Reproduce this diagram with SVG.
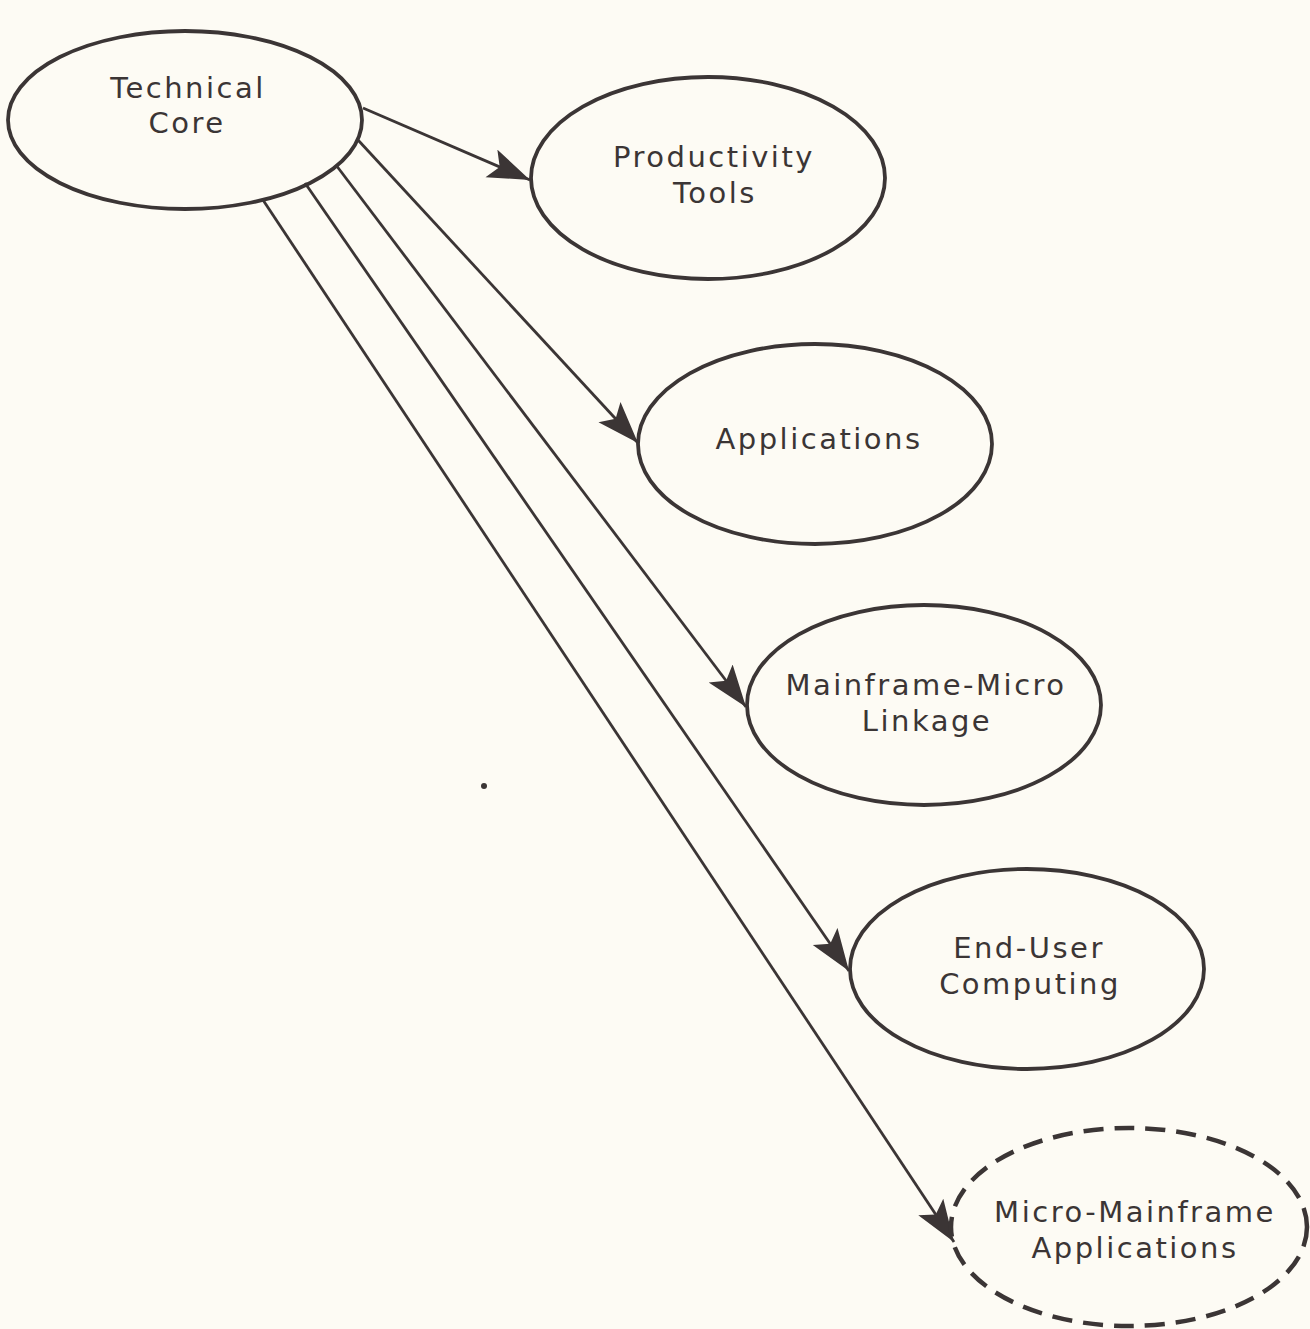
<svg xmlns="http://www.w3.org/2000/svg" width="1310" height="1329" viewBox="0 0 1310 1329">
<defs>
<style>
.node{fill:none;stroke:#3b3535;stroke-width:3.8}
.dash{stroke-dasharray:20 11;stroke-width:4.5}
.edge{stroke:#3b3535;stroke-width:2.8;fill:none}
text{font-family:"DejaVu Sans","Liberation Sans",sans-serif;font-size:29px;fill:#3b3535;text-anchor:middle;letter-spacing:2.5px}
</style>
<marker id="arr" markerUnits="userSpaceOnUse" markerWidth="46" markerHeight="32" refX="42" refY="15" orient="auto" viewBox="0 0 46 32">
<path d="M0,0 L42,15 L0,30 L9,15 z" fill="#3b3535"/>
</marker>
</defs>
<rect width="1310" height="1329" fill="#fdfbf4"/>
<g id="connectors">
<line class="edge" x1="363" y1="108" x2="530" y2="180" marker-end="url(#arr)"/>
<line class="edge" x1="358" y1="140" x2="638" y2="443" marker-end="url(#arr)"/>
<line class="edge" x1="336" y1="165" x2="746" y2="707" marker-end="url(#arr)"/>
<line class="edge" x1="305" y1="183" x2="849" y2="971" marker-end="url(#arr)"/>
<line class="edge" x1="263" y1="200" x2="954" y2="1242" marker-end="url(#arr)"/>
</g>
<g id="technical-core">
<ellipse class="node" cx="185" cy="120" rx="177" ry="89"/>
<text x="188" y="98">Technical</text>
<text x="187" y="133">Core</text>
</g>
<g id="productivity-tools">
<ellipse class="node" cx="708" cy="178" rx="177" ry="101"/>
<text x="714" y="167">Productivity</text>
<text x="715" y="203">Tools</text>
</g>
<g id="applications">
<ellipse class="node" cx="815" cy="444" rx="177" ry="100"/>
<text x="819" y="449">Applications</text>
</g>
<g id="mainframe-micro">
<ellipse class="node" cx="924" cy="705" rx="177" ry="100"/>
<text x="926" y="695">Mainframe-Micro</text>
<text x="927" y="731">Linkage</text>
</g>
<g id="end-user">
<ellipse class="node" cx="1027" cy="969" rx="177" ry="100"/>
<text x="1029" y="958">End-User</text>
<text x="1030" y="994">Computing</text>
</g>
<g id="micro-mainframe">
<ellipse class="node dash" cx="1129" cy="1227" rx="178" ry="99"/>
<text x="1135" y="1222">Micro-Mainframe</text>
<text x="1135" y="1258">Applications</text>
</g>
<circle cx="484" cy="786" r="3" fill="#3b3535"/>
</svg>
